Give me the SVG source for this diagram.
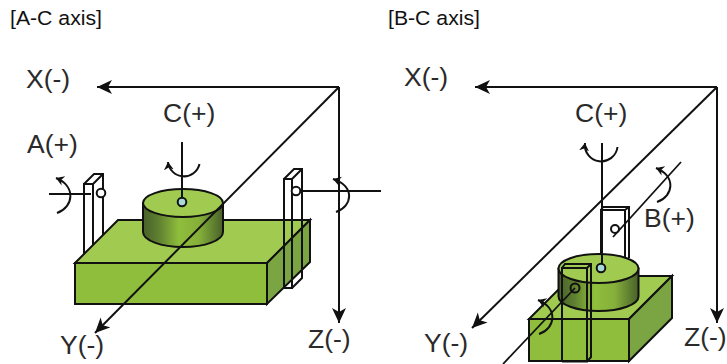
<svg xmlns="http://www.w3.org/2000/svg" width="727" height="364" viewBox="0 0 727 364">
<style>
text{font-family:"Liberation Sans",Arial,sans-serif;fill:#2b2a2b}
.t{font-size:20.500px;fill:#111}.l{font-size:26.500px}
.e{stroke:#111;stroke-width:2;stroke-linejoin:miter}
.top{fill:#a0cb50}.fr{fill:#8fbe3c}.sd{fill:#7ba543}
.p{fill:none;stroke:#111;stroke-width:2}
.pw{fill:#fff;stroke:#111;stroke-width:2}
.ax{fill:none;stroke:#111;stroke-width:2}
.thin{fill:none;stroke:#111;stroke-width:1.800}
.arc{fill:none;stroke:#111;stroke-width:2}
.dot{fill:#a8d8dc;stroke:#111;stroke-width:2}
.ring{fill:none;stroke:#111;stroke-width:2}
</style>
<defs>
<linearGradient id="cyl" x1="0" y1="0" x2="1" y2="0">
<stop offset="0" stop-color="#48612a"/><stop offset=".2" stop-color="#5f8030"/><stop offset=".45" stop-color="#8fbe3c"/><stop offset=".7" stop-color="#86b03a"/><stop offset="1" stop-color="#48612a"/>
</linearGradient>
<marker id="big" markerUnits="userSpaceOnUse" markerWidth="18" markerHeight="16" refX="15" refY="7" orient="auto">
<path d="M15,7 L0,0 L4,7 L0,14 Z" fill="#111"/>
</marker>
<marker id="small" markerUnits="userSpaceOnUse" markerWidth="12" markerHeight="12" refX="8" refY="5" orient="auto">
<path d="M8,5 L0,0 L2.500,5 L0,10 Z" fill="#111"/>
</marker>
</defs>

<text class="t" x="10" y="25" textLength="92" lengthAdjust="spacingAndGlyphs">[A-C axis]</text>
<text class="t" x="388" y="25" textLength="92" lengthAdjust="spacingAndGlyphs">[B-C axis]</text>

<g id="ac-rear-pillar">
<path class="pw" d="M84,258V184H93V258M84,184L94,174H103V258M93,184L103,174"/>
<circle class="ring" cx="101" cy="193" r="4.300" style="fill:#fff"/>
</g>
<g id="ac-block">
<path class="e top" d="M75,263L118,220H310L267,263Z"/>
<path class="e sd" d="M267,263L310,220V262L267,304Z"/>
<rect class="e fr" x="75" y="263" width="192" height="41"/>
</g>
<g id="ac-cylinder">
<path class="e" fill="url(#cyl)" d="M143,203V232A40,15 0 0 0 223,232V203Z"/>
<ellipse class="e top" cx="183" cy="203" rx="40" ry="14"/>
</g>
<g id="ac-front-pillar">
<path class="p" d="M284,288V179H292V288H284M292,288L302,278V169H294L284,179M292,179L302,169"/>
<circle class="ring" cx="296" cy="191" r="4.300" style="fill:#fff"/>
</g>

<g id="bc-rear-pillar">
<path class="p" d="M601,258V210H625V258M601,210L603,207H629V258M625,210L629,207"/>
<circle class="ring" cx="615" cy="229" r="4"/>
</g>
<g id="bc-block">
<path class="e top" d="M529,319L572,276H672L629,319Z"/>
<path class="e sd" d="M629,319L672,276V318L629,361Z"/>
<rect class="e fr" x="529" y="319" width="100" height="42"/>
</g>
<g id="bc-cylinder">
<path class="e" fill="url(#cyl)" d="M558.500,268.500V296.500A40,14.500 0 0 0 638.500,296.500V268.500Z"/>
<ellipse class="e top" cx="598.500" cy="268.500" rx="40" ry="14.500"/>
</g>
<g id="bc-front-pillar">
<path class="p" d="M562,361.500V268H587V361.500H562M587,361.500L591,357V264H565L562,268M587,268L591,264"/>
<circle class="ring" cx="575" cy="288" r="4.500"/>
</g>

<g id="connectors">
<path class="ax" d="M339,87H97" marker-end="url(#big)"/>
<path class="ax" d="M339,87V323" marker-end="url(#big)"/>
<path class="ax" d="M339,87L95,333" marker-end="url(#big)"/>
<path class="ax" d="M182,142V198"/>
<path class="thin" d="M49,194H91"/>
<path class="thin" d="M300,191H381"/>
<path class="arc" d="M199.500,164A16,16 0 0 1 168,162" marker-end="url(#small)"/>
<path class="arc" d="M57,213C74,207 76,186 56,178" marker-end="url(#small)"/>
<path class="arc" d="M336,212C353,206 355,186 333,179" marker-end="url(#small)"/>

<path class="ax" d="M717,87H475" marker-end="url(#big)"/>
<path class="ax" d="M717,87V323" marker-end="url(#big)"/>
<path class="ax" d="M717,87L472,328" marker-end="url(#big)"/>
<path class="ax" d="M602,143V264"/>
<path class="thin" d="M681,162L613,237"/>
<path class="thin" d="M575,288L503,364"/>
<path class="arc" d="M617.500,147A16,16 0 0 1 585,143" marker-end="url(#small)"/>
<path class="arc" d="M657,202C674,196 676,176 656,168" marker-end="url(#small)"/>
<path class="arc" d="M539,334C556,328 558,308 538,300" marker-end="url(#small)"/>
<circle class="dot" cx="182" cy="202" r="4.300"/>
<circle class="dot" cx="601" cy="268" r="4.300"/>
</g>

<text class="l" x="26" y="88">X(-)</text>
<text class="l" x="27" y="153">A(+)</text>
<text class="l" x="163" y="122">C(+)</text>
<text class="l" x="60" y="354">Y(-)</text>
<text class="l" x="308" y="348">Z(-)</text>
<text class="l" x="404" y="86">X(-)</text>
<text class="l" x="575" y="122">C(+)</text>
<text class="l" x="644" y="227">B(+)</text>
<text class="l" x="424" y="352">Y(-)</text>
<text class="l" x="684" y="346">Z(-)</text>
</svg>
